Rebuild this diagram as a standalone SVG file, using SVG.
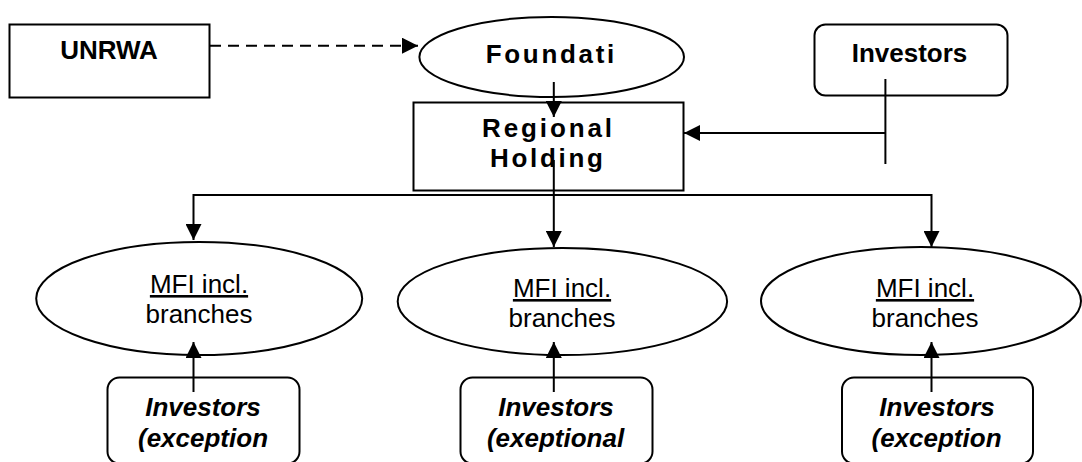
<svg xmlns="http://www.w3.org/2000/svg" width="1082" height="462" viewBox="0 0 1082 462">
<style>
.shape{fill:#fff;stroke:#000;stroke-width:2}
.line{fill:none;stroke:#000;stroke-width:2}
.t{font-family:"Liberation Sans",Arial,sans-serif;font-size:26px;fill:#000;text-anchor:middle}
.b{font-weight:bold}
.bi{font-weight:bold;font-style:italic}
.u{text-decoration:underline}
</style>
<defs>
<marker id="ah" markerWidth="16" markerHeight="16" refX="16" refY="8" orient="auto" markerUnits="userSpaceOnUse" viewBox="0 0 16 16">
<path d="M0,0 L16,8 L0,16 Z" fill="#000"/>
</marker>
</defs>
<rect width="1082" height="462" fill="#fff"/>
<g id="unrwa">
<rect class="shape" x="9.5" y="24.5" width="200" height="73"/>
<text class="t b" x="109" y="59">UNRWA</text>
</g>
<g id="foundation">
<ellipse class="shape" cx="551.7" cy="57" rx="132.3" ry="40"/>
<text class="t b" x="550" y="63" textLength="128.5" lengthAdjust="spacing">Foundati</text>
</g>
<g id="regional-holding">
<rect class="shape" x="413.5" y="102.5" width="270" height="88"/>
<text class="t b" x="547" y="137" textLength="130" lengthAdjust="spacing">Regional</text>
<text class="t b" x="546.5" y="167" textLength="113" lengthAdjust="spacing">Holding</text>
</g>
<g id="investors-top">
<rect class="shape" x="814.5" y="24.5" width="193" height="71" rx="11"/>
<text class="t b" x="909.5" y="62">Investors</text>
</g>
<g id="mfi-left">
<ellipse class="shape" cx="199.2" cy="298.5" rx="163" ry="56.5"/>
<text class="t u" x="199" y="293">MFI incl.</text>
<text class="t" x="199" y="323">branches</text>
</g>
<g id="mfi-middle">
<ellipse class="shape" cx="562.4" cy="301.5" rx="164.7" ry="53.5"/>
<text class="t u" x="562" y="297">MFI incl.</text>
<text class="t" x="562" y="327">branches</text>
</g>
<g id="mfi-right">
<ellipse class="shape" cx="921" cy="301" rx="160" ry="54"/>
<text class="t u" x="925" y="297">MFI incl.</text>
<text class="t" x="925" y="327">branches</text>
</g>
<g id="investors-left">
<rect class="shape" x="107.5" y="377.5" width="192" height="86" rx="12"/>
<text class="t bi" x="203" y="416">Investors</text>
<text class="t bi" x="203" y="447">(exception</text>
</g>
<g id="investors-middle">
<rect class="shape" x="460.5" y="377.5" width="192" height="86" rx="12"/>
<text class="t bi" x="556" y="416">Investors</text>
<text class="t bi" x="555.5" y="447">(exeptional</text>
</g>
<g id="investors-right">
<rect class="shape" x="842" y="377.5" width="191" height="86" rx="12"/>
<text class="t bi" x="937" y="416">Investors</text>
<text class="t bi" x="936.5" y="447">(exception</text>
</g>
<g id="connectors">
<line class="line" x1="210" y1="45.7" x2="418" y2="45.7" stroke-dasharray="11,7" marker-end="url(#ah)"/>
<line class="line" x1="553.8" y1="82" x2="553.8" y2="117" marker-end="url(#ah)"/>
<line class="line" x1="885.4" y1="79" x2="885.4" y2="164"/>
<line class="line" x1="885.4" y1="133" x2="684" y2="133" marker-end="url(#ah)"/>
<line class="line" x1="553.8" y1="160" x2="553.8" y2="195"/>
<polyline class="line" points="193.5,195 931.5,195 931.5,247" marker-end="url(#ah)"/>
<line class="line" x1="193.5" y1="194" x2="193.5" y2="240" marker-end="url(#ah)"/>
<line class="line" x1="553.8" y1="195" x2="553.8" y2="247" marker-end="url(#ah)"/>
<line class="line" x1="193.5" y1="392" x2="193.5" y2="342" marker-end="url(#ah)"/>
<line class="line" x1="553.8" y1="392" x2="553.8" y2="342" marker-end="url(#ah)"/>
<line class="line" x1="931.5" y1="392" x2="931.5" y2="342" marker-end="url(#ah)"/>
</g>
</svg>
